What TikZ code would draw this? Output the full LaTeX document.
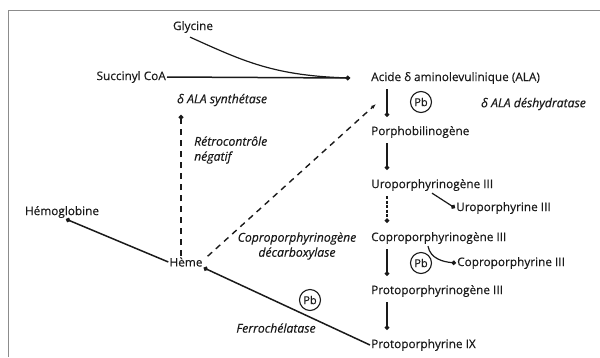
\documentclass[tikz,border=0pt]{standalone}
\usepackage{fontspec}
\setmainfont{Open Sans}
\newfontfamily\inkfont{Open Sans}[FakeBold=0.35]
\usetikzlibrary{arrows.meta,positioning}
\definecolor{framegray}{HTML}{8C8C8C}
\definecolor{inkdark}{HTML}{1A1A1A}
\tikzset{
  molecule/.style={anchor=west, inner sep=1pt, text=inkdark, font=\inkfont\fontsize{11.8}{13}\selectfont},
  enzyme/.style={inner sep=1pt, text=inkdark, align=center, font=\inkfont\fontsize{12.2}{15}\selectfont\itshape},
  reaction/.style={inkdark, line width=1.5pt, -{Circle[length=4.5pt]}},
  feedback/.style={inkdark, line width=1.4pt, dash pattern=on 6pt off 5pt},
  leadcircle/.style={circle, draw=inkdark, line width=1.1pt, inner sep=0pt, minimum size=21pt, text=inkdark, font=\inkfont\fontsize{11}{12}\selectfont},
  framerule/.style={framegray, line width=0.8pt}
}

\begin{document}
\begin{tikzpicture}[x=1pt,y=-1pt]
  \useasboundingbox (0,0) rectangle (600,357);
  \draw[framerule] (8,357) -- (8,10) -- (600,10);

  % chaine de synthese
  \node[molecule] (ala) at (370,78) {Acide δ aminolevulinique (ALA)};
  \node[molecule] (pbg) at (370,132) {Porphobilinogène};
  \node[molecule] (urogen) at (370,185) {Uroporphyrinogène III};
  \node[molecule] (coprogen) at (370,238) {Coproporphyrinogène III};
  \node[molecule] (protogen) at (370,291) {Protoporphyrinogène III};
  \node[molecule] (proto) at (370,345) {Protoporphyrine IX};
  \node[molecule] (uro) at (455,208) {Uroporphyrine III};
  \node[molecule] (copro) at (456,263) {Coproporphyrine III};

  \node[molecule, anchor=center] (gly) at (193,27) {Glycine};
  \node[molecule, anchor=east] (succ) at (167,77) {Succinyl CoA};
  \node[molecule, anchor=center] (heme) at (186,262) {Hème};
  \node[molecule, anchor=center] (hemo) at (62,212) {Hémoglobine};

  % enzymes
  \node[enzyme, anchor=west] (synth) at (176,100) {δ ALA synthétase};
  \node[enzyme, anchor=west] (dehyd) at (480,104) {δ ALA déshydratase};
  \node[enzyme, anchor=west, align=left] (retro) at (193,150) {Rétrocontrôle\\négatif};
  \node[enzyme] (decarb) at (297,246) {Coproporphyrinogène\\décarboxylase};
  \node[enzyme] (ferro) at (276,328) {Ferrochélatase};

  % plomb
  \node[leadcircle] (pba) at (421,102) {Pb};
  \node[leadcircle] (pbb) at (421,263) {Pb};
  \node[leadcircle] (pbc) at (310,300) {Pb};

  \coordinate (join) at (350,78);
  \coordinate (inhib) at (376,104);
  \coordinate (retrotip) at (181,115);

  \draw[reaction] (succ.east) -- (join);
  \draw[inkdark, line width=1.2pt] ([xshift=-3pt,yshift=-3pt]gly.south) .. controls (245,62) and (275,76) .. (join);

  \foreach \a/\b in {ala/pbg, pbg/urogen, coprogen/protogen, protogen/proto}{
    \draw[reaction] ([xshift=17pt,yshift=-4pt]\a.south west) -- ([xshift=17pt,yshift=8pt]\b.north west);
  }
  \draw[reaction, dash pattern=on 3pt off 1.5pt] ([xshift=17pt,yshift=-4pt]urogen.south west) -- ([xshift=17pt,yshift=8pt]coprogen.north west);

  \draw[reaction, line width=1.2pt] ([xshift=62pt,yshift=-1pt]urogen.south west) -- (uro.west);
  \draw[reaction, line width=1.2pt] ([xshift=58pt,yshift=-1pt]coprogen.south west) to[out=-80,in=175] (copro.west);

  \draw[reaction] (proto.west) -- (heme.south east);
  \draw[reaction] (heme.west) -- ([xshift=4pt]hemo.south);
  \draw[feedback, -{Circle[length=4.5pt]}] ([xshift=-5pt]heme.north) -- (retrotip);
  \draw[feedback, -{Latex[length=5pt]}] ([xshift=4pt]heme.north east) -- (inhib);
\end{tikzpicture}
\end{document}
